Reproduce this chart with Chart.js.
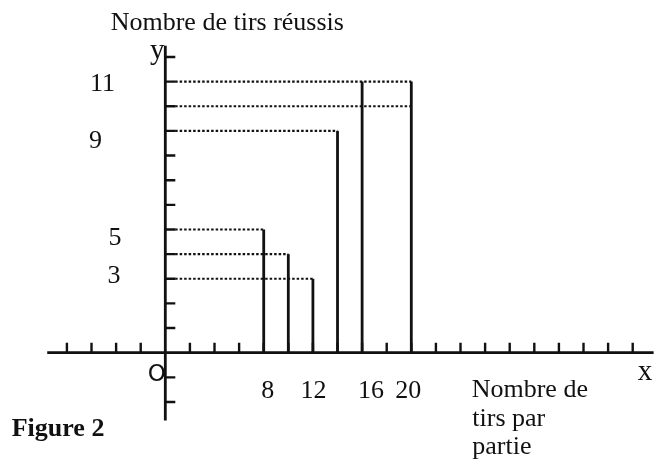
<!DOCTYPE html>
<html>
<head>
<meta charset="utf-8">
<script src="https://cdn.jsdelivr.net/npm/chart.js@4/dist/chart.umd.min.js"></script>
<style>
  html, body { margin: 0; padding: 0; background: #fff; }
  #figure { display: block; }
</style>
</head>
<body>
<canvas id="figure" width="661" height="466"></canvas>
<script>
// valeurs
const shotsPerGame = [8, 10, 12, 14, 16, 20];
const shotsMade = [5, 4, 3, 9, 11, 11];
// pointilles : niveau y et abscisse ou ils s'arretent
const guideLevels = [5, 4, 3, 9, 10, 11];
const guideEnds = [8, 10, 12, 14, 20, 20];

const xTickValues = [-8, -6, -4, -2, 2, 4, 6, 8, 10, 12, 14, 16, 18, 20, 22, 24, 26, 28, 30, 32, 34, 36, 38];
const yTickValues = [-2, -1, 1, 2, 3, 4, 5, 6, 7, 8, 9, 10, 11, 12];
const xLabelValues = [8, 12, 16, 20];
const xLabels = ['8', '12', '16', '20'];
const yLabelValues = [11, 9, 5, 3];
const yLabels = ['11', '9', '5', '3'];
const xAxisRange = [-9.6, 39.7];
const yAxisRange = [-2.75, 12.45];

let datasets = [];
for (let i = 0; i < shotsPerGame.length; i++) {
    datasets.push({
        data: [{x: shotsPerGame[i], y: 0}, {x: shotsPerGame[i], y: shotsMade[i]}],
        borderColor: '#111',
        borderWidth: 2.8,
        showLine: true,
        pointRadius: 0
    });
}
for (let i = 0; i < guideLevels.length; i++) {
    datasets.push({
        data: [{x: 0.8, y: guideLevels[i]}, {x: guideEnds[i], y: guideLevels[i]}],
        borderColor: '#111',
        borderWidth: 2.2,
        borderDash: [2.5, 2],
        showLine: true,
        pointRadius: 0
    });
}

// axes, graduations et textes dessines a la main avec les echelles du graphique
const axesPlugin = {
    id: 'axesPlugin',
    beforeDatasetsDraw(chart) {
        const ctx = chart.ctx;
        const xs = chart.scales.x, ys = chart.scales.y;
        const x0 = xs.getPixelForValue(0), y0 = ys.getPixelForValue(0);
        ctx.save();
        ctx.strokeStyle = '#111';
        ctx.lineWidth = 2.8;
        ctx.beginPath();
        ctx.moveTo(xs.getPixelForValue(xAxisRange[0]), y0);
        ctx.lineTo(xs.getPixelForValue(xAxisRange[1]), y0);
        ctx.moveTo(x0, ys.getPixelForValue(yAxisRange[0]));
        ctx.lineTo(x0, ys.getPixelForValue(yAxisRange[1]));
        ctx.stroke();
        ctx.lineWidth = 2.4;
        ctx.beginPath();
        xTickValues.forEach(v => {
            const px = xs.getPixelForValue(v);
            ctx.moveTo(px, y0);
            ctx.lineTo(px, y0 - 10);
        });
        yTickValues.forEach(v => {
            const py = ys.getPixelForValue(v);
            ctx.moveTo(x0, py);
            ctx.lineTo(x0 + 10, py);
        });
        ctx.stroke();
        ctx.restore();
    },
    afterDraw(chart) {
        const ctx = chart.ctx;
        const xs = chart.scales.x, ys = chart.scales.y;
        const x0 = xs.getPixelForValue(0), y0 = ys.getPixelForValue(0);
        ctx.save();
        ctx.fillStyle = '#111';
        ctx.textBaseline = 'alphabetic';
        ctx.font = '26px "Liberation Serif"';
        ctx.textAlign = 'center';
        const yOff = [[-62.8, 9.7], [-69.8, 17.3], [-50.3, 15.3], [-51.3, 4]];
        yLabels.forEach((t, i) => {
            ctx.fillText(t, x0 + yOff[i][0], ys.getPixelForValue(yLabelValues[i]) + yOff[i][1]);
        });
        const xOff = [4, 0.5, 9, -3];
        xLabels.forEach((t, i) => {
            ctx.fillText(t, xs.getPixelForValue(xLabelValues[i]) + xOff[i], y0 + 45.6);
        });
        ctx.textAlign = 'left';
        ctx.fillText('Nombre de tirs réussis', 110.7, 30);
        ctx.fillText('Nombre de', 471.7, 396.7);
        ctx.fillText('tirs par', 472.3, 425.5);
        ctx.fillText('partie', 472.3, 454);
        ctx.font = 'bold 26px "Liberation Serif"';
        ctx.fillText('Figure 2', 11.7, 436);
        ctx.textAlign = 'center';
        ctx.font = '29px "Liberation Serif"';
        ctx.fillText('y', x0 - 8, 59);
        ctx.fillText('x', 645, 380);
        ctx.font = '23px "DejaVu Sans"';
        ctx.fillText('O', x0 - 8.6, 381);
        ctx.restore();
    }
};

const figure = new Chart(document.getElementById('figure'), {
    type: 'scatter',
    data: { datasets: datasets },
    options: {
        responsive: false,
        animation: false,
        devicePixelRatio: 1,
        layout: { padding: 0 },
        plugins: { legend: { display: false }, tooltip: { enabled: false } },
        scales: {
            x: { type: 'linear', display: false, min: -13.44, max: 40.3 },
            y: { type: 'linear', display: false, min: -4.596, max: 14.31 }
        }
    },
    plugins: [axesPlugin]
});
</script>
</body>
</html>
